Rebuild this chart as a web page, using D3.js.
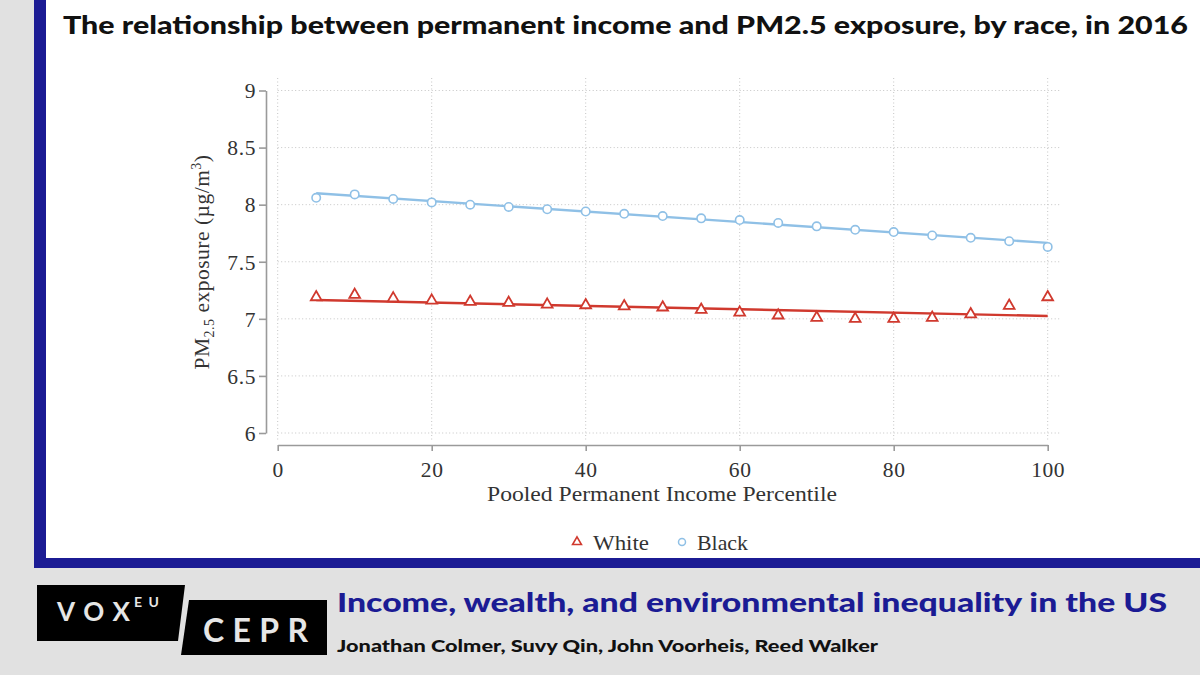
<!DOCTYPE html>
<html>
<head>
<meta charset="utf-8">
<script src="https://cdn.jsdelivr.net/npm/d3@7"></script>
<style>
  body { margin: 0; background: #e1e1e1; }
  svg { display: block; }
</style>
</head>
<body>
<div id="chart"></div>
<script>
// values
var percentiles = [5, 10, 15, 20, 25, 30, 35, 40, 45, 50, 55, 60, 65, 70, 75, 80, 85, 90, 95, 100];
var whiteVals = [7.19, 7.21, 7.18, 7.16, 7.15, 7.14, 7.125, 7.12, 7.11, 7.10, 7.08, 7.055, 7.03, 7.01, 7.00, 7.00, 7.01, 7.04, 7.115, 7.19];
var blackVals = [8.06, 8.09, 8.05, 8.02, 8.00, 7.98, 7.96, 7.94, 7.92, 7.90, 7.88, 7.865, 7.84, 7.81, 7.78, 7.76, 7.73, 7.71, 7.68, 7.63];
var fitX = [5, 100];
var whiteFit = [7.165, 7.025];
var blackFit = [8.10, 7.665];
var yTicks = [6, 6.5, 7, 7.5, 8, 8.5, 9];
var xTicks = [0, 20, 40, 60, 80, 100];

var W = 1200, H = 675,
    red = "#d0392e", blue = "#8fc0e6",
    navy = "#1b1b94",
    serif = "'Liberation Serif', 'Times New Roman', serif",
    sans = "Lato, 'Open Sans', sans-serif";

var svg = d3.select("#chart").append("svg")
    .attr("width", W)
    .attr("height", H);

// panel + blue frame
svg.append("rect").attr("x", 0).attr("y", 0).attr("width", W).attr("height", H).attr("fill", "#e1e1e1");
svg.append("rect").attr("x", 45).attr("y", 0).attr("width", W - 45).attr("height", 558).attr("fill", "#fff");
svg.append("rect").attr("x", 34).attr("y", 0).attr("width", 12).attr("height", 568).attr("fill", navy);
svg.append("rect").attr("x", 34).attr("y", 558).attr("width", W - 34).attr("height", 10).attr("fill", navy);

svg.append("text")
    .attr("x", 63).attr("y", 34)
    .attr("font-family", sans).attr("font-weight", 900).attr("font-size", 25.5)
    .attr("textLength", 1125).attr("lengthAdjust", "spacingAndGlyphs")
    .attr("fill", "#111")
    .text("The relationship between permanent income and PM2.5 exposure, by race, in 2016");

var x = d3.scaleLinear().domain([0, 100]).range([277.7, 1047.7]);
var y = d3.scaleLinear().domain([6, 9]).range([433, 90.5]);

var plot = svg.append("g");

// dotted grid
plot.selectAll(".hgrid").data(yTicks).enter().append("line")
    .attr("class", "hgrid")
    .attr("x1", x(0)).attr("x2", 1060)
    .attr("y1", function (d) { return y(d); }).attr("y2", function (d) { return y(d); })
    .attr("stroke", "#c4c4c4").attr("stroke-width", 1).attr("stroke-dasharray", "1,2.5");
plot.selectAll(".vgrid").data(xTicks).enter().append("line")
    .attr("class", "vgrid")
    .attr("x1", function (d) { return x(d); }).attr("x2", function (d) { return x(d); })
    .attr("y1", 78).attr("y2", 442)
    .attr("stroke", "#c4c4c4").attr("stroke-width", 1).attr("stroke-dasharray", "1,2.5");

var yAxis = d3.axisLeft(y).tickValues(yTicks).tickSize(7).tickSizeOuter(0).tickPadding(3)
    .tickFormat(function (d) { return String(d); });
var xAxis = d3.axisBottom(x).tickValues(xTicks).tickSize(6).tickSizeOuter(0).tickPadding(11)
    .tickFormat(function (d) { return String(d); });

var gy = plot.append("g").attr("transform", "translate(266,0)").call(yAxis);
var gx = plot.append("g").attr("transform", "translate(0,445)").call(xAxis);

[gy, gx].forEach(function (g) {
  g.select(".domain").attr("stroke", "#9a9a9a").attr("stroke-width", 1.6);
  g.selectAll(".tick line").attr("stroke", "#9a9a9a").attr("stroke-width", 1.6);
  g.selectAll(".tick text").attr("font-family", serif).attr("font-size", 21.5)
    .attr("fill", "#333").attr("letter-spacing", 0.6);
});
gy.selectAll(".tick text").attr("dy", "0.34em");

// axis titles
plot.append("text")
    .attr("x", 662).attr("y", 501)
    .attr("text-anchor", "middle")
    .attr("font-family", serif).attr("font-size", 21)
    .attr("textLength", 350).attr("lengthAdjust", "spacingAndGlyphs")
    .attr("fill", "#333")
    .text("Pooled Permanent Income Percentile");

var yt = plot.append("text")
    .attr("transform", "translate(209,262) rotate(-90)")
    .attr("text-anchor", "middle")
    .attr("font-family", serif).attr("font-size", 21.5).attr("letter-spacing", 0.5)
    .attr("fill", "#333");
yt.append("tspan").text("PM");
yt.append("tspan").attr("font-size", 14).attr("dy", 5).text("2.5");
yt.append("tspan").attr("dy", -5).text(" exposure (\u00b5g/m");
yt.append("tspan").attr("font-size", 14).attr("dy", -8).text("3");
yt.append("tspan").attr("dy", 8).text(")");

// fitted lines
var line = d3.line()
    .x(function (d) { return x(d[0]); })
    .y(function (d) { return y(d[1]); });

plot.append("path")
    .datum(d3.zip(fitX, blackFit))
    .attr("d", line).attr("fill", "none").attr("stroke", blue).attr("stroke-width", 2.4);
plot.append("path")
    .datum(d3.zip(fitX, whiteFit))
    .attr("d", line).attr("fill", "none").attr("stroke", red).attr("stroke-width", 2.4);

// markers
var tri = d3.symbol().type(d3.symbolTriangle).size(50);

plot.selectAll(".black").data(d3.zip(percentiles, blackVals)).enter().append("circle")
    .attr("class", "black")
    .attr("cx", function (d) { return x(d[0]); })
    .attr("cy", function (d) { return y(d[1]); })
    .attr("r", 4.2)
    .attr("fill", "#fff").attr("stroke", blue).attr("stroke-width", 1.6);

plot.selectAll(".white").data(d3.zip(percentiles, whiteVals)).enter().append("path")
    .attr("class", "white")
    .attr("d", tri)
    .attr("transform", function (d) { return "translate(" + x(d[0]) + "," + y(d[1]) + ")"; })
    .attr("fill", "#fff").attr("stroke", red).attr("stroke-width", 1.8);

// legend
var legend = svg.append("g");
legend.append("path").attr("d", d3.symbol().type(d3.symbolTriangle).size(34))
    .attr("transform", "translate(577,542)")
    .attr("fill", "#fff").attr("stroke", red).attr("stroke-width", 1.6);
legend.append("text").attr("x", 593).attr("y", 550)
    .attr("font-family", serif).attr("font-size", 21.5)
    .attr("textLength", 56).attr("lengthAdjust", "spacingAndGlyphs")
    .attr("fill", "#333").text("White");
legend.append("circle").attr("cx", 682).attr("cy", 542).attr("r", 3.5)
    .attr("fill", "#fff").attr("stroke", blue).attr("stroke-width", 1.5);
legend.append("text").attr("x", 697).attr("y", 550)
    .attr("font-family", serif).attr("font-size", 21.5)
    .attr("textLength", 51).attr("lengthAdjust", "spacingAndGlyphs")
    .attr("fill", "#333").text("Black");

// footer: logo
var logo = svg.append("g");
logo.append("polygon").attr("points", "37,585 185,585 178,641 37,641").attr("fill", "#000");
logo.append("polygon").attr("points", "189,600 327,600 327,655 181,655").attr("fill", "#000");
logo.append("text").attr("x", 57).attr("y", 621)
    .attr("font-family", sans).attr("font-weight", 700).attr("font-size", 26)
    .attr("textLength", 73).attr("lengthAdjust", "spacing")
    .attr("fill", "#e6e6e6").text("VOX");
logo.append("text").attr("x", 134).attr("y", 607)
    .attr("font-family", sans).attr("font-weight", 700).attr("font-size", 14)
    .attr("textLength", 25).attr("lengthAdjust", "spacing")
    .attr("fill", "#e6e6e6").text("EU");
logo.append("text").attr("x", 203).attr("y", 642)
    .attr("font-family", sans).attr("font-weight", 700).attr("font-size", 32)
    .attr("textLength", 105).attr("lengthAdjust", "spacing")
    .attr("fill", "#e6e6e6").text("CEPR");

svg.append("text")
    .attr("x", 337).attr("y", 612)
    .attr("font-family", sans).attr("font-weight", 900).attr("font-size", 26.5)
    .attr("textLength", 830).attr("lengthAdjust", "spacingAndGlyphs")
    .attr("fill", navy)
    .text("Income, wealth, and environmental inequality in the US");

svg.append("text")
    .attr("x", 337).attr("y", 652)
    .attr("font-family", sans).attr("font-weight", 900).attr("font-size", 17)
    .attr("textLength", 541).attr("lengthAdjust", "spacingAndGlyphs")
    .attr("fill", "#111")
    .text("Jonathan Colmer, Suvy Qin, John Voorheis, Reed Walker");
</script>
</body>
</html>
